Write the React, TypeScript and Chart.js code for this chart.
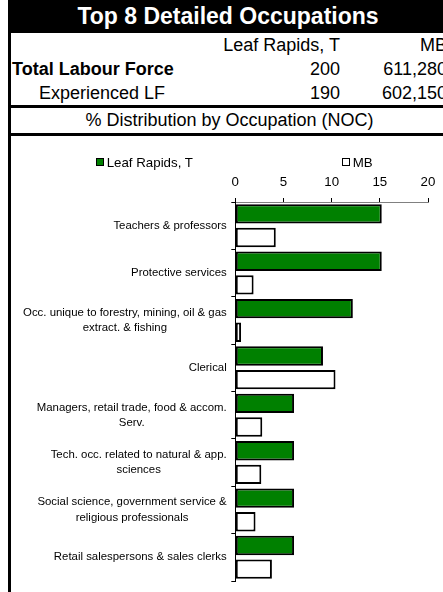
import React, { useEffect, useRef } from "react";
import { Chart, registerables } from "chart.js";
Chart.register(...registerables);

const title = "Top 8 Detailed Occupations";
const subTitle = "% Distribution by Occupation (NOC)";
const seriesNames = ["Leaf Rapids, T", "MB"];
const headerRows = [
  ["Total Labour Force", "200", "611,280"],
  ["Experienced LF", "190", "602,150"],
];
const categories = [
  ["Teachers & professors"],
  ["Protective services"],
  ["Occ. unique to forestry, mining, oil & gas", "extract. & fishing"],
  ["Clerical"],
  ["Managers, retail trade, food & accom.", "Serv."],
  ["Tech. occ. related to natural & app.", "sciences"],
  ["Social science, government service &", "religious professionals"],
  ["Retail salespersons & sales clerks"],
];
const leafRapids = [15.2, 15.2, 12.2, 9.1, 6.1, 6.1, 6.1, 6.1];
const mb = [4.2, 1.9, 0.6, 10.4, 2.8, 2.7, 2.1, 3.8];
const xMin = 0;
const xMax = 20;
const xStep = 5;

const FONT = '"Liberation Sans", Arial, sans-serif';

const yLabelPlugin = {
  id: "yLabels",
  afterDraw(chart: any) {
    const { ctx, chartArea, scales } = chart;
    const y = scales.y;
    ctx.save();
    ctx.font = `11.4px ${FONT}`;
    ctx.fillStyle = "#000";
    ctx.textBaseline = "middle";
    ctx.textAlign = "center";
    const right = chartArea.left - 8.6;
    const lh = 15.5;
    categories.forEach((lines, i) => {
      const cy = y.getPixelForValue(i);
      const w = Math.max(...lines.map((l) => ctx.measureText(l).width));
      const cx = right - w / 2;
      lines.forEach((l, j) =>
        ctx.fillText(l, cx, cy + (j - (lines.length - 1) / 2) * lh)
      );
    });
    ctx.restore();
  },
};

function BarChart() {
  const ref = useRef<HTMLCanvasElement>(null);
  useEffect(() => {
    if (!ref.current) return;
    const chart = new Chart(ref.current, {
      type: "bar",
      data: {
        labels: categories.map((c) => c.join(" ")),
        datasets: [
          {
            label: seriesNames[0],
            data: leafRapids,
            backgroundColor: "#008000",
            borderColor: "#000",
            borderWidth: 2,
            borderSkipped: false,
            barPercentage: 0.82,
            categoryPercentage: 1,
          },
          {
            label: seriesNames[1],
            data: mb,
            backgroundColor: "#fff",
            borderColor: "#000",
            borderWidth: 2,
            borderSkipped: false,
            barPercentage: 0.82,
            categoryPercentage: 1,
          },
        ],
      },
      options: {
        indexAxis: "y",
        animation: false,
        responsive: false,
        maintainAspectRatio: false,
        layout: { padding: { left: 0, right: 20, top: 38, bottom: 19 } },
        plugins: {
          legend: { display: false },
          tooltip: { enabled: false },
        },
        scales: {
          x: {
            position: "top",
            min: xMin,
            max: xMax,
            ticks: {
              stepSize: xStep,
              color: "#000",
              font: { family: FONT, size: 13.3 },
              padding: 8,
            },
            grid: { drawOnChartArea: false, tickLength: 4, color: "#000" },
            border: { color: "#808080", width: 1 },
            afterFit: (scale: any) => {
              scale.height = 28;
            },
          },
          y: {
            ticks: { display: false },
            grid: {
              drawOnChartArea: false,
              tickLength: 4,
              color: "#000",
              offset: true,
            },
            border: { color: "#000", width: 1 },
            afterFit: (scale: any) => {
              scale.width = 224.3;
            },
          },
        },
      },
      plugins: [yLabelPlugin],
    });
    return () => chart.destroy();
  }, []);
  return <canvas ref={ref} width={437} height={464} style={{ display: "block" }} />;
}

export default function App() {
  const rowStyle: React.CSSProperties = {
    display: "flex",
    height: 24,
    alignItems: "center",
    fontSize: 18,
  };
  return (
    <div style={{ fontFamily: FONT, width: 440, color: "#000" }}>
      <style>{`body{margin:0 0 0 8px;overflow:hidden}`}</style>
      <div
        style={{
          background: "#000",
          color: "#fff",
          fontWeight: "bold",
          fontSize: 23,
          height: 33,
          lineHeight: "33px",
          textAlign: "center",
        }}
      >
        {title}
      </div>
      <div style={{ borderLeft: "3px solid #000" }}>
        <div style={rowStyle}>
          <div style={{ width: 329, textAlign: "right" }}>{seriesNames[0]}</div>
          <div style={{ width: 107, textAlign: "right", flexShrink: 0 }}>{seriesNames[1]}</div>
        </div>
        {headerRows.map((r, i) => (
          <div key={i} style={rowStyle}>
            <div
              style={{
                width: i === 0 ? 229 : 202,
                paddingLeft: i === 0 ? 1 : 28,
                fontWeight: i === 0 ? "bold" : "normal",
                whiteSpace: "nowrap",
              }}
            >
              {r[0]}
            </div>
            <div style={{ width: 99, textAlign: "right" }}>{r[1]}</div>
            <div style={{ width: 107, textAlign: "right", flexShrink: 0 }}>{r[2]}</div>
          </div>
        ))}
      </div>
      <div style={{ height: 3, background: "#000" }} />
      <div
        style={{
          borderLeft: "3px solid #000",
          height: 25,
          lineHeight: "25px",
          fontSize: 18,
          textAlign: "center",
        }}
      >
        {subTitle}
      </div>
      <div style={{ height: 3, background: "#000" }} />
      <div style={{ borderLeft: "3px solid #000", position: "relative" }}>
        <BarChart />
        {[0, 1].map((k) => (
          <div
            key={k}
            style={{
              position: "absolute",
              left: k === 0 ? 84.7 : 330.7,
              top: 17,
              height: 18,
              display: "flex",
              alignItems: "center",
              fontSize: 13.3,
              whiteSpace: "nowrap",
            }}
          >
            <span
              style={{
                display: "inline-block",
                width: 6,
                height: 6,
                border: "1.5px solid #000",
                background: k === 0 ? "#008000" : "#fff",
                marginRight: 3,
              }}
            />
            {seriesNames[k]}
          </div>
        ))}
      </div>
    </div>
  );
}
